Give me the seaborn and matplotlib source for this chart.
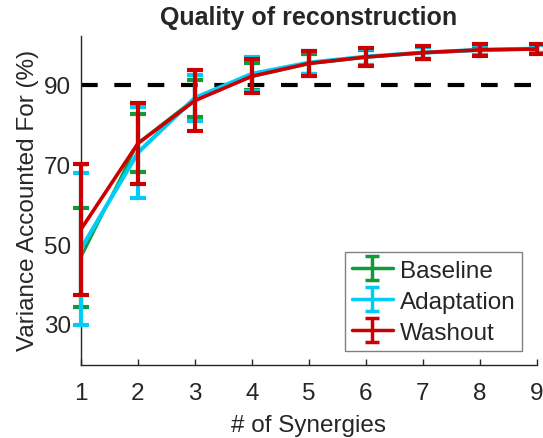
import numpy as np
import pandas as pd
import matplotlib
matplotlib.use("Agg")
import matplotlib.pyplot as plt
import seaborn as sns

synergies = [1, 2, 3, 4, 5, 6, 7, 8, 9]

baseline_mean = [46.9, 75.5, 86.6, 92.1, 95.3, 96.9, 98.0, 98.7, 99.0]
baseline_sd   = [12.4, 7.3, 4.6, 3.4, 2.5, 1.9, 1.4, 1.1, 0.9]

adaptation_mean = [49.0, 73.1, 86.8, 92.8, 95.6, 97.1, 98.1, 98.8, 99.1]
adaptation_sd   = [19.0, 11.4, 5.8, 4.3, 2.8, 2.0, 1.5, 1.2, 1.0]

washout_mean = [53.9, 75.4, 86.1, 92.2, 95.4, 97.0, 98.1, 98.8, 99.0]
washout_sd   = [16.4, 10.1, 7.6, 4.3, 3.1, 2.3, 1.6, 1.5, 1.3]

conditions = ["Baseline", "Adaptation", "Washout"]
colors = {"Baseline": "#119A3A", "Adaptation": "#00CCF5", "Washout": "#CC0000"}
widths = {"Baseline": 2.0, "Adaptation": 3.0, "Washout": 2.6}

df = pd.DataFrame({
    "synergies": synergies * 3,
    "vaf": baseline_mean + adaptation_mean + washout_mean,
    "sd": baseline_sd + adaptation_sd + washout_sd,
    "condition": [c for c in conditions for _ in synergies],
})

sns.set_style("ticks")
plt.rcParams["font.family"] = ["Liberation Sans", "DejaVu Sans"]

fig = plt.figure(figsize=(5.43, 4.38), dpi=100)
ax = fig.add_axes([0.149, 0.1667, 0.840, 0.751])

ax.axhline(90, color="black", lw=3, dashes=(4, 4), zorder=1)

handles = []
for i, cond in enumerate(conditions):
    sub = df[df["condition"] == cond]
    sns.lineplot(data=sub, x="synergies", y="vaf", color=colors[cond],
                 lw=widths[cond], ax=ax, legend=False, zorder=3 + i)
    eb = ax.errorbar(sub["synergies"], sub["vaf"], yerr=sub["sd"], fmt="none",
                     ecolor=colors[cond], elinewidth=3, capsize=6, capthick=3,
                     zorder=3 + i)
    for art in eb.lines[1] + eb.lines[2]:
        art.set_clip_on(False)
    h = ax.errorbar([np.nan], [np.nan], yerr=[1], fmt="-", color=colors[cond],
                    lw=2.5, elinewidth=2.5, capsize=5, capthick=2.5, label=cond)
    handles.append(h)
for line in ax.lines:
    line.set_clip_on(False)

ax.set_xlim(1, 9)
ax.set_ylim(20, 102.25)
ax.set_xticks(synergies)
ax.set_yticks([30, 50, 70, 90])
ax.tick_params(direction="in", length=4, width=1, labelsize=17.5,
               colors="#262626")
ax.tick_params(axis="x", pad=13)
ax.tick_params(axis="y", pad=7)
ax.set_xlabel("# of Synergies", fontsize=17.5, color="#262626", labelpad=7)
ax.set_ylabel("Variance Accounted For (%)", fontsize=17.5, color="#262626")
ax.set_title("Quality of reconstruction", fontsize=18, fontweight="bold",
             pad=8)
sns.despine(ax=ax)
for s in ["left", "bottom"]:
    ax.spines[s].set_color("#262626")
    ax.spines[s].set_linewidth(1)

leg = ax.legend(handles=handles, labels=conditions, loc="lower right",
                bbox_to_anchor=(0.967, 0.043), borderaxespad=0, fontsize=17.5,
                fancybox=False, framealpha=1, edgecolor="#808080",
                handlelength=1.7, handleheight=1.1, handletextpad=0.3,
                labelspacing=0.25, borderpad=0.25)
leg.get_frame().set_linewidth(1)

fig.savefig("out.png", dpi=100)
